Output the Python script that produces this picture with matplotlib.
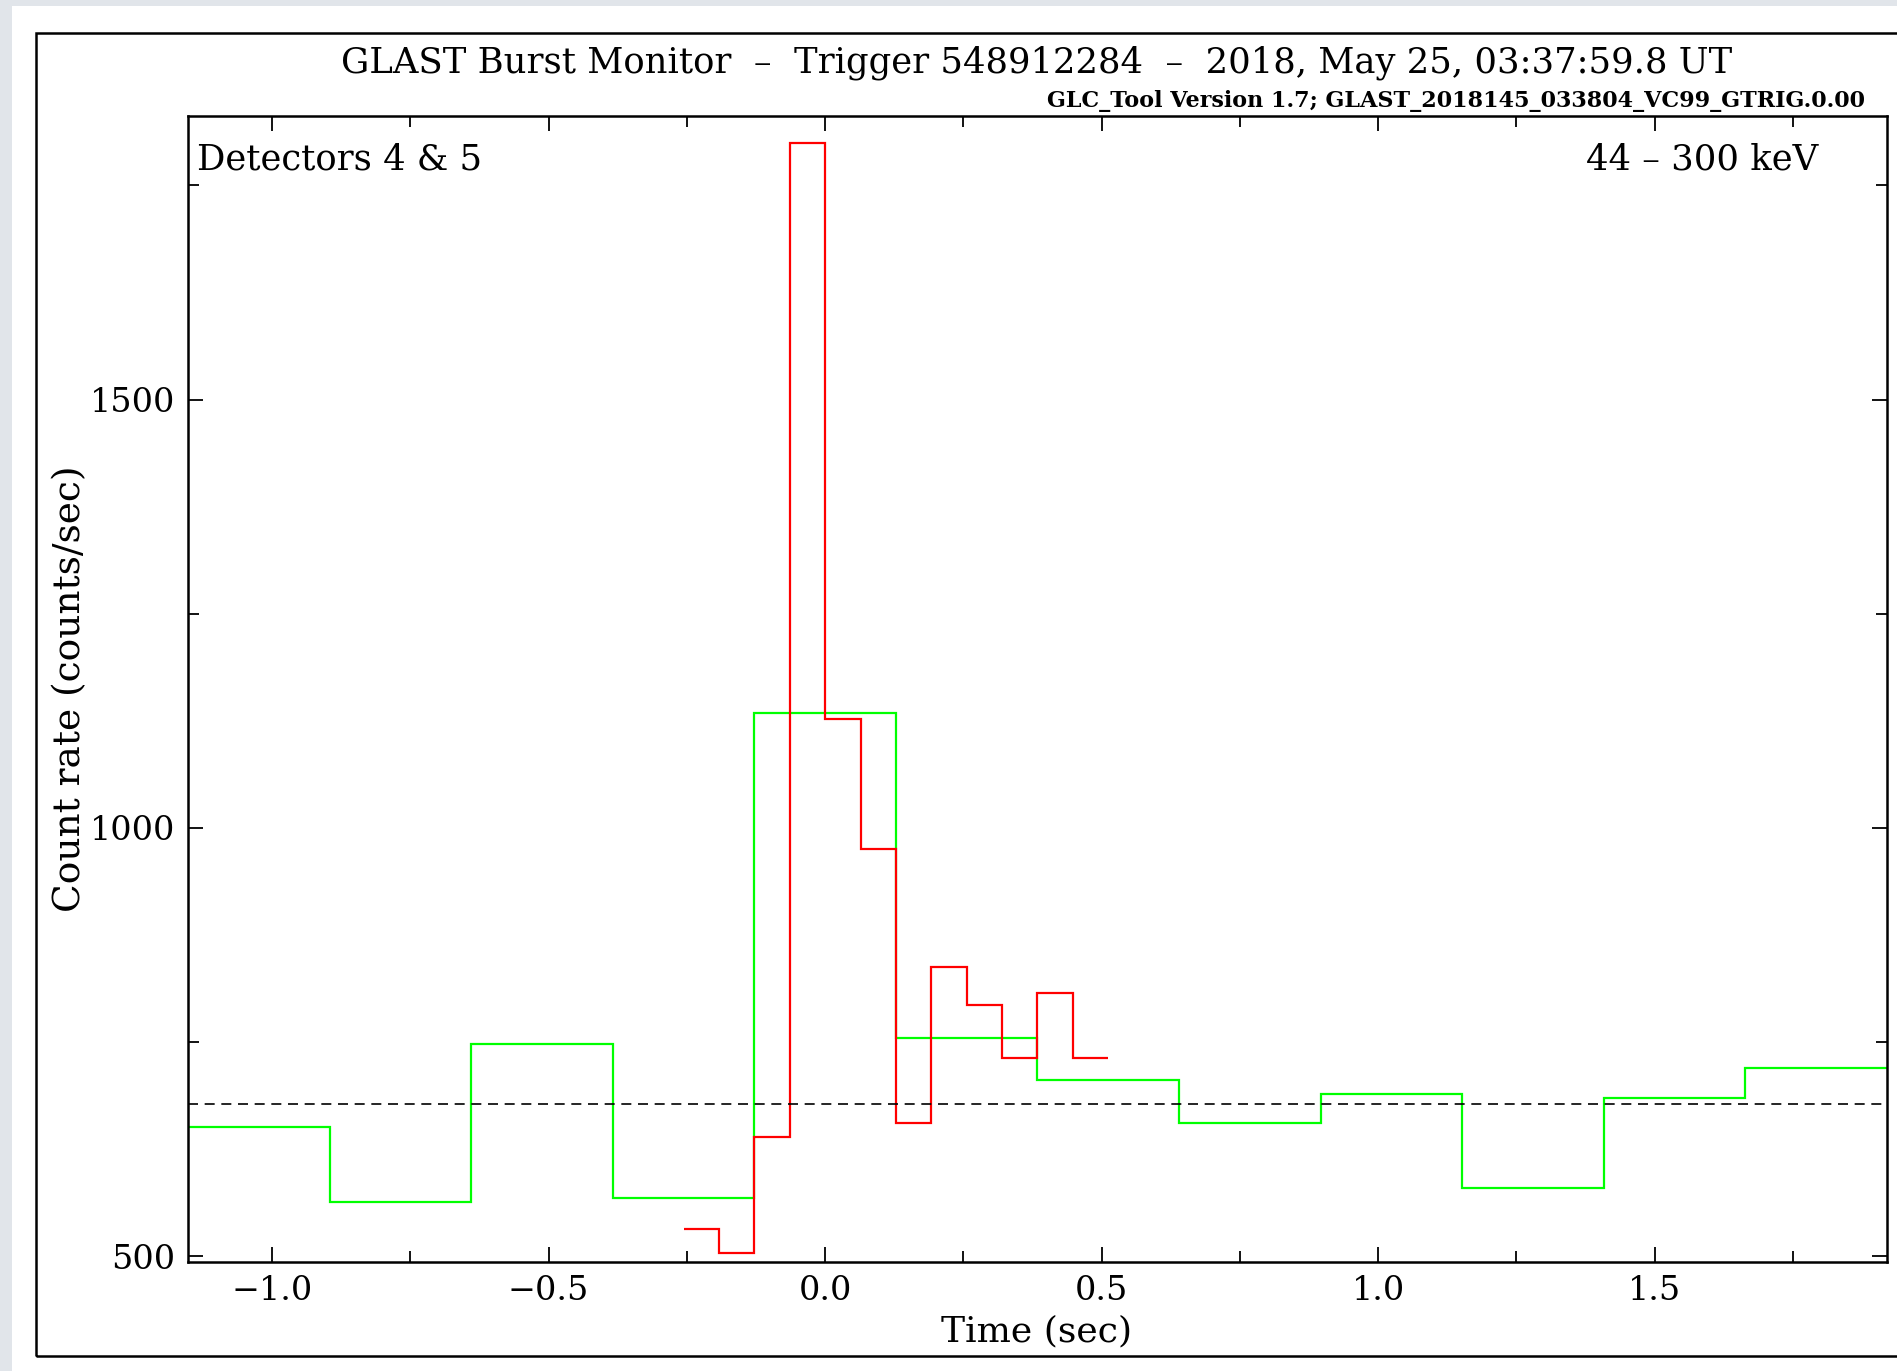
import matplotlib.pyplot as plt
from matplotlib.patches import Rectangle
from matplotlib.ticker import MultipleLocator

# GBM trigger light curve, detectors 4 & 5, 44-300 keV
# green: 0.256 s bins, red: 0.064 s bins
green_edges = [-1.152, -0.896, -0.640, -0.384, -0.128, 0.128, 0.384,
               0.640, 0.896, 1.152, 1.408, 1.664, 1.920]
green_rate = [651, 563, 747, 568, 1134, 755, 706, 655, 689, 579, 685, 720]

red_edges = [-0.256, -0.192, -0.128, -0.064, 0.000, 0.064, 0.128,
             0.192, 0.256, 0.320, 0.384, 0.448, 0.512]
red_rate = [532, 503, 639, 1800, 1127, 975, 655, 838, 793, 731, 807, 731]

background = 678

title = "GLAST Burst Monitor  \u2013  Trigger 548912284  \u2013  2018, May 25, 03:37:59.8 UT"
subtitle = "GLC_Tool Version 1.7; GLAST_2018145_033804_VC99_GTRIG.0.00"

plt.rcParams['font.family'] = 'DejaVu Serif'

W, H = 1897, 1371
fig = plt.figure(figsize=(W / 100, H / 100), dpi=100, facecolor='#e1e5ea')

# white page and outer frame
fig.patches.append(Rectangle((12 / W, 0), 1, 1 - 6 / H, transform=fig.transFigure,
                             facecolor='white', edgecolor='none', zorder=-2))
fig.patches.append(Rectangle((36 / W, 1 - 1356 / H), 1, (1356 - 33) / H,
                             transform=fig.transFigure, facecolor='none',
                             edgecolor='black', lw=1.8, zorder=-1))

ax = fig.add_axes([188 / W, 1 - 1262 / H, (1887 - 188) / W, (1262 - 116) / H])
ax.set_zorder(2)

ax.stairs(green_rate, green_edges, baseline=None, color='#00ff00', lw=1.6)
ax.stairs(red_rate, red_edges, baseline=None, color='#ff0000', lw=1.6)
ax.axhline(background, color='black', lw=1.2, ls=(0, (6, 4)))

ax.set_xlim(green_edges[0], green_edges[-1])
ax.set_ylim(493, 1831)

ax.xaxis.set_major_locator(MultipleLocator(0.5))
ax.xaxis.set_minor_locator(MultipleLocator(0.25))
ax.yaxis.set_major_locator(MultipleLocator(500))
ax.yaxis.set_minor_locator(MultipleLocator(250))
ax.xaxis.set_major_formatter(lambda v, p: f"{v:.1f}".replace('-', '\u2212'))
ax.tick_params(which='both', direction='in', top=True, right=True,
               width=1.3, labelsize=24, pad=9)
ax.tick_params(which='major', length=11)
ax.tick_params(which='minor', length=8)
for s in ax.spines.values():
    s.set_linewidth(1.8)

ax.text(0.0053, 0.962, "Detectors 4 & 5", transform=ax.transAxes, fontsize=25.5,
        ha='left', va='center')
ax.text(0.9594, 0.962, "44 \u2013 300 keV", transform=ax.transAxes, fontsize=25.5,
        ha='right', va='center')

fig.text(1037 / W, 1 - 63 / H, title, fontsize=25.5, ha='center', va='center')
fig.text(1865 / W, 1 - 101 / H, subtitle, fontsize=16, fontweight='bold',
         ha='right', va='center')
fig.text(70 / W, 1 - 689 / H, "Count rate (counts/sec)", fontsize=27,
         rotation=90, ha='center', va='center')
fig.text(1037 / W, 1 - 1331 / H, "Time (sec)", fontsize=26, ha='center', va='center')

fig.savefig('out.png', dpi=100, facecolor=fig.get_facecolor())
